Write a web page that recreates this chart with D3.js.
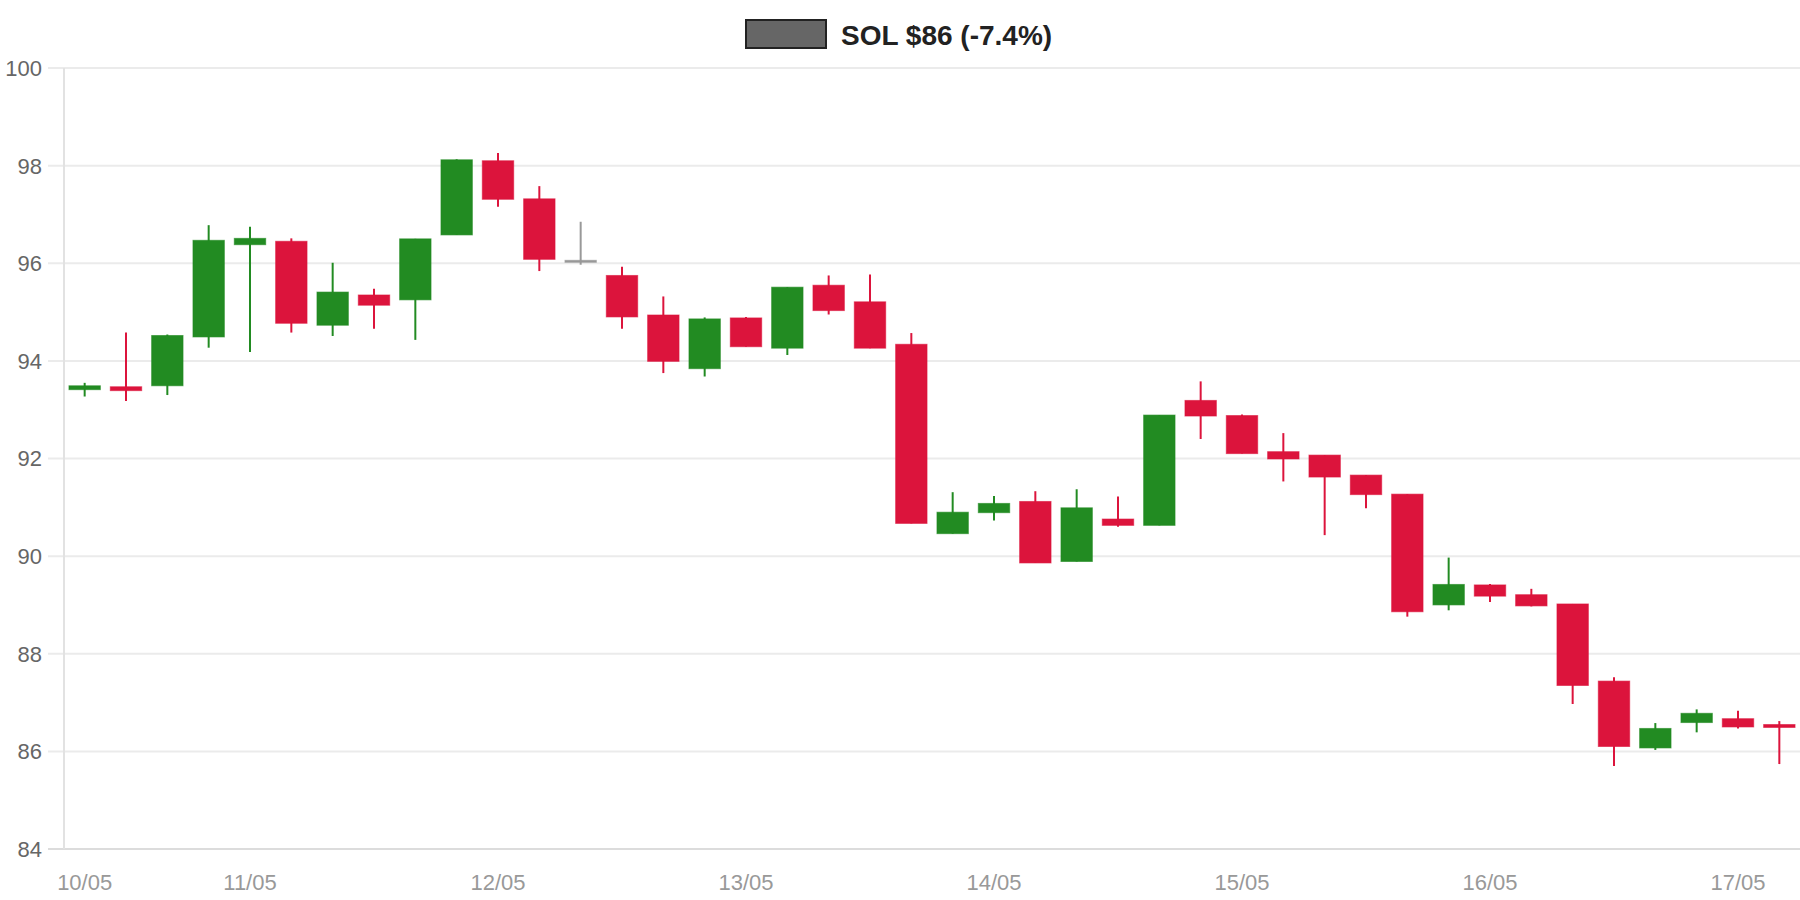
<!DOCTYPE html>
<html>
<head>
<meta charset="utf-8">
<script src="https://cdn.jsdelivr.net/npm/d3@7"></script>
<style>
  body { margin: 0; background: #fff; }
  svg { display: block; font-family: "Liberation Sans", Arial, sans-serif; }
</style>
</head>
<body>
<svg id="chart" width="1800" height="900"></svg>
<script>
// 4h candles, SOL
var times = [
  "2022-05-10T08:00", "2022-05-10T12:00", "2022-05-10T16:00", "2022-05-10T20:00",
  "2022-05-11T00:00", "2022-05-11T04:00", "2022-05-11T08:00", "2022-05-11T12:00", "2022-05-11T16:00", "2022-05-11T20:00",
  "2022-05-12T00:00", "2022-05-12T04:00", "2022-05-12T08:00", "2022-05-12T12:00", "2022-05-12T16:00", "2022-05-12T20:00",
  "2022-05-13T00:00", "2022-05-13T04:00", "2022-05-13T08:00", "2022-05-13T12:00", "2022-05-13T16:00", "2022-05-13T20:00",
  "2022-05-14T00:00", "2022-05-14T04:00", "2022-05-14T08:00", "2022-05-14T12:00", "2022-05-14T16:00", "2022-05-14T20:00",
  "2022-05-15T00:00", "2022-05-15T04:00", "2022-05-15T08:00", "2022-05-15T12:00", "2022-05-15T16:00", "2022-05-15T20:00",
  "2022-05-16T00:00", "2022-05-16T04:00", "2022-05-16T08:00", "2022-05-16T12:00", "2022-05-16T16:00", "2022-05-16T20:00",
  "2022-05-17T00:00", "2022-05-17T04:00"
];
var opens  = [93.41, 93.47, 93.49, 94.49, 96.38, 96.45, 94.73, 95.35, 95.25, 96.58,
              98.10, 97.32, 96.06, 95.75, 94.94, 93.84, 94.88, 94.26, 95.55, 95.21,
              94.34, 90.46, 90.89, 91.12, 89.89, 90.76, 90.63, 93.19, 92.88, 92.14,
              92.07, 91.66, 91.27, 89.00, 89.41, 89.21, 89.02, 87.44, 86.07, 86.59,
              86.67, 86.55];
var highs  = [93.55, 94.58, 94.54, 96.78, 96.75, 96.51, 96.01, 95.48, 96.50, 98.13,
              98.26, 97.58, 96.85, 95.93, 95.32, 94.89, 94.90, 95.51, 95.75, 95.77,
              94.57, 91.31, 91.23, 91.33, 91.37, 91.22, 92.89, 93.58, 92.90, 92.52,
              92.07, 91.66, 91.27, 89.97, 89.43, 89.33, 89.02, 87.52, 86.58, 86.86,
              86.83, 86.62];
var lows   = [93.27, 93.18, 93.30, 94.27, 94.18, 94.58, 94.51, 94.66, 94.43, 96.58,
              97.16, 95.84, 95.97, 94.66, 93.75, 93.68, 94.29, 94.12, 94.95, 94.26,
              90.67, 90.46, 90.73, 89.86, 89.89, 90.60, 90.63, 92.40, 92.10, 91.53,
              90.43, 90.98, 88.76, 88.89, 89.06, 88.97, 86.97, 85.70, 86.03, 86.39,
              86.47, 85.74];
var closes = [93.49, 93.39, 94.52, 96.47, 96.51, 94.77, 95.41, 95.14, 96.50, 98.12,
              97.31, 96.08, 96.06, 94.90, 93.99, 94.86, 94.29, 95.51, 95.03, 94.26,
              90.67, 90.90, 91.08, 89.86, 90.99, 90.63, 92.89, 92.87, 92.10, 91.99,
              91.62, 91.26, 88.86, 89.42, 89.18, 88.98, 87.35, 86.10, 86.47, 86.78,
              86.50, 86.49];
var yTicks = [84, 86, 88, 90, 92, 94, 96, 98, 100];
var xTickTimes = ["2022-05-10T08:00", "2022-05-11T00:00", "2022-05-12T00:00", "2022-05-13T00:00",
                  "2022-05-14T00:00", "2022-05-15T00:00", "2022-05-16T00:00", "2022-05-17T00:00"];
var title = "SOL $86 (-7.4%)";

var upColor = "#228b22", downColor = "#dc143c", flatColor = "#999999";

var parseTime = d3.timeParse("%Y-%m-%dT%H:%M");
var data = times.map(function(t, i){
    return {t: parseTime(t), o: opens[i], h: highs[i], l: lows[i], c: closes[i]};
});

var svg = d3.select("#chart");
var plotLeft = 64, plotRight = 1800, plotTop = 68, plotBottom = 849;

var x = d3.scaleTime()
    .domain([d3.timeHour.offset(data[0].t, -2), d3.timeHour.offset(data[data.length-1].t, 2)])
    .range([plotLeft, plotRight]);
var y = d3.scaleLinear().domain([84, 100]).range([plotBottom, plotTop]);

var step = x(data[1].t) - x(data[0].t);
var bodyW = step * 0.76;

// grid + y labels
var grid = svg.append("g");
grid.selectAll("line.grid")
    .data(yTicks)
    .enter().append("line")
      .attr("class", "grid")
      .attr("x1", plotLeft - 16).attr("x2", plotRight)
      .attr("y1", d => y(d)).attr("y2", d => y(d))
      .attr("stroke", d => d === 84 ? "#dcdcdc" : "#ebebeb")
      .attr("stroke-width", 2);
grid.append("line")
    .attr("x1", plotLeft).attr("x2", plotLeft)
    .attr("y1", plotTop).attr("y2", plotBottom)
    .attr("stroke", "#e2e2e2").attr("stroke-width", 2);

svg.append("g").selectAll("text")
    .data(yTicks)
    .enter().append("text")
      .attr("x", 42)
      .attr("y", d => y(d))
      .attr("dy", "0.36em")
      .attr("text-anchor", "end")
      .style("font-size", "22px")
      .style("fill", "#666")
      .text(d => d);

// x labels
var fmt = d3.timeFormat("%d/%m");
svg.append("g").selectAll("text")
    .data(xTickTimes.map(parseTime))
    .enter().append("text")
      .attr("x", d => x(d))
      .attr("y", 890)
      .attr("text-anchor", "middle")
      .style("font-size", "22px")
      .style("fill", "#999")
      .text(d => fmt(d));

// candles
function colorOf(d){
    if (d.c > d.o) return upColor;
    if (d.c < d.o) return downColor;
    return flatColor;
}

var candles = svg.append("g").selectAll("g")
    .data(data)
    .enter().append("g");

candles.append("line")
    .attr("x1", d => x(d.t)).attr("x2", d => x(d.t))
    .attr("y1", d => y(d.h)).attr("y2", d => y(d.l))
    .attr("stroke", colorOf)
    .attr("stroke-width", 2);

candles.append("rect")
    .attr("x", d => x(d.t) - bodyW/2)
    .attr("y", d => y(Math.max(d.o, d.c)))
    .attr("width", bodyW)
    .attr("height", d => Math.max(2, Math.abs(y(d.o) - y(d.c))))
    .attr("fill", colorOf)
    .attr("stroke", colorOf)
    .attr("stroke-opacity", 0.6)
    .attr("stroke-width", 1);

// legend / title
var legend = svg.append("g");
legend.append("rect")
    .attr("x", 746).attr("y", 20)
    .attr("width", 80).attr("height", 28)
    .attr("fill", "#666")
    .attr("stroke", "#222")
    .attr("stroke-width", 2);
legend.append("text")
    .attr("x", 841).attr("y", 45)
    .style("font-size", "28px")
    .style("font-weight", "bold")
    .style("fill", "#222")
    .text(title);
</script>
</body>
</html>
